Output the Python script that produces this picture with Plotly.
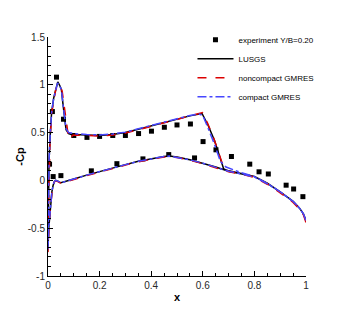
import plotly.graph_objects as go

# ---------------- data ----------------
exp_x = [0.006, 0.017, 0.033, 0.06, 0.10, 0.151, 0.20, 0.251, 0.30, 0.351, 0.401, 0.451, 0.50, 0.552,
         0.02, 0.05, 0.168, 0.267, 0.368, 0.468, 0.568,
         0.601, 0.651, 0.711, 0.782, 0.818, 0.854, 0.923, 0.952, 0.988]
exp_y = [0.17, 0.72, 1.08, 0.64, 0.47, 0.45, 0.46, 0.47, 0.47, 0.49, 0.515, 0.556, 0.58, 0.59,
         0.04, 0.05, 0.10, 0.175, 0.225, 0.27, 0.235,
         0.406, 0.32, 0.25, 0.17, 0.09, 0.067, -0.05, -0.09, -0.17]

# closed contour: trailing edge -> lower surface -> leading edge -> upper surface -> trailing edge
lus_x = [1.0, 0.99, 0.975, 0.95, 0.9, 0.85, 0.8, 0.75, 0.7, 0.65, 0.6, 0.55, 0.5, 0.47, 0.45, 0.4,
         0.35, 0.3, 0.25, 0.2, 0.15, 0.1, 0.07, 0.06, 0.05, 0.04, 0.03, 0.025, 0.02, 0.015, 0.008,
         0.003, 0.0, 0.002, 0.004, 0.008, 0.014, 0.022, 0.03, 0.038, 0.046, 0.052, 0.058, 0.064,
         0.07, 0.08, 0.09, 0.1, 0.15, 0.2, 0.25, 0.3, 0.35, 0.4, 0.45, 0.5, 0.55, 0.597, 0.62,
         0.645, 0.665, 0.681, 0.7, 0.75, 0.8, 0.85, 0.9, 0.95, 0.975, 0.99, 1.0]
lus_y = [-0.42, -0.35, -0.29, -0.22, -0.12, -0.03, 0.04, 0.07, 0.095, 0.14, 0.18, 0.215, 0.245,
         0.255, 0.25, 0.225, 0.2, 0.165, 0.13, 0.09, 0.055, 0.015, -0.01, -0.02, -0.025, -0.01,
         0.0, -0.01, -0.05, -0.12, -0.3, -0.5, -0.72, -0.2, 0.2, 0.45, 0.71, 0.86, 0.96, 1.03,
         0.99, 0.95, 0.80, 0.65, 0.53, 0.49, 0.48, 0.48, 0.475, 0.47, 0.48, 0.5, 0.535, 0.57,
         0.61, 0.645, 0.675, 0.70, 0.58, 0.42, 0.25, 0.12, 0.10, 0.07, 0.04, -0.03, -0.12, -0.22,
         -0.29, -0.35, -0.42]

nc_x = [1.0, 0.99, 0.975, 0.95, 0.9, 0.85, 0.8, 0.75, 0.7, 0.65, 0.6, 0.55, 0.5, 0.47, 0.45, 0.4,
        0.35, 0.3, 0.25, 0.2, 0.15, 0.1, 0.07, 0.06, 0.05, 0.04, 0.03, 0.025, 0.02, 0.015, 0.008,
        0.003, 0.0, 0.002, 0.004, 0.008, 0.014, 0.022, 0.03, 0.038, 0.046, 0.055, 0.062, 0.07,
        0.078, 0.086, 0.095, 0.1, 0.15, 0.2, 0.25, 0.3, 0.35, 0.4, 0.45, 0.5, 0.55, 0.599, 0.62,
        0.645, 0.665, 0.683, 0.7, 0.75, 0.8, 0.85, 0.9, 0.95, 0.975, 0.99, 1.0]
nc_y = [-0.44, -0.36, -0.30, -0.23, -0.13, -0.04, 0.03, 0.065, 0.09, 0.135, 0.175, 0.21, 0.24,
        0.245, 0.245, 0.22, 0.195, 0.16, 0.125, 0.085, 0.05, 0.01, -0.015, -0.025, -0.03, -0.015,
        -0.005, -0.015, -0.06, -0.14, -0.33, -0.55, -0.75, -0.25, 0.15, 0.42, 0.70, 0.85, 0.95,
        1.0, 0.99, 0.93, 0.78, 0.60, 0.48, 0.43, 0.47, 0.475, 0.47, 0.465, 0.475, 0.495, 0.53,
        0.565, 0.605, 0.64, 0.675, 0.71, 0.59, 0.42, 0.26, 0.12, 0.095, 0.065, 0.035, -0.035,
        -0.125, -0.225, -0.295, -0.36, -0.44]

cg_x = [1.0, 0.99, 0.975, 0.95, 0.9, 0.85, 0.8, 0.75, 0.72, 0.7, 0.65, 0.6, 0.55, 0.5, 0.47, 0.45,
        0.4, 0.35, 0.3, 0.25, 0.2, 0.15, 0.1, 0.07, 0.06, 0.05, 0.04, 0.03, 0.025, 0.02, 0.015,
        0.008, 0.003, 0.0, 0.002, 0.004, 0.008, 0.014, 0.022, 0.03, 0.037, 0.045, 0.052, 0.058,
        0.064, 0.07, 0.08, 0.09, 0.1, 0.15, 0.2, 0.25, 0.3, 0.35, 0.4, 0.45, 0.5, 0.55, 0.585,
        0.6, 0.62, 0.645, 0.668, 0.69, 0.72, 0.75, 0.8, 0.85, 0.9, 0.95, 0.975, 0.99, 1.0]
cg_y = [-0.42, -0.35, -0.29, -0.22, -0.12, -0.035, 0.035, 0.07, 0.085, 0.095, 0.14, 0.18, 0.215,
        0.245, 0.255, 0.25, 0.225, 0.2, 0.165, 0.13, 0.09, 0.055, 0.015, -0.01, -0.02, -0.025,
        -0.01, 0.0, -0.01, -0.05, -0.12, -0.3, -0.5, -0.72, -0.2, 0.2, 0.45, 0.71, 0.86, 0.96,
        1.02, 0.99, 0.95, 0.80, 0.65, 0.54, 0.50, 0.495, 0.49, 0.48, 0.475, 0.485, 0.505, 0.54,
        0.575, 0.615, 0.65, 0.68, 0.695, 0.68, 0.55, 0.38, 0.20, 0.14, 0.11, 0.08, 0.04, -0.03,
        -0.12, -0.22, -0.29, -0.35, -0.42]

x_tickvals = [0, 0.2, 0.4, 0.6, 0.8, 1]
x_ticktext = ["0", "0.2", "0.4", "0.6", "0.8", "1"]
y_tickvals = [-1, -0.5, 0, 0.5, 1, 1.5]
y_ticktext = ["-1", "-0.5", "0", "0.5", "1", "1.5"]

FONT = "Liberation Sans, Arial, sans-serif"

fig = go.Figure()
fig.add_trace(go.Scatter(x=exp_x, y=exp_y, mode="markers", name="experiment Y/B=0.20",
                         marker=dict(symbol="square", size=5, color="black")))
fig.add_trace(go.Scatter(x=lus_x, y=lus_y, mode="lines", name="LUSGS",
                         line=dict(color="black", width=1.5)))
fig.add_trace(go.Scatter(x=nc_x, y=nc_y, mode="lines", name="noncompact GMRES",
                         line=dict(color="rgb(220,0,0)", width=1.5, dash="dash")))
fig.add_trace(go.Scatter(x=cg_x, y=cg_y, mode="lines", name="compact GMRES",
                         line=dict(color="rgb(70,70,255)", width=1.5, dash="dashdot")))

axis_common = dict(showline=True, linecolor="black", linewidth=1, mirror=False,
                   showgrid=False, zeroline=False, ticks="inside", ticklen=5,
                   tickcolor="black", tickwidth=1,
                   tickfont=dict(family=FONT, size=10, color="rgb(40,40,40)"))

fig.update_xaxes(range=[0, 1], tickvals=x_tickvals, ticktext=x_ticktext,
                 minor=dict(ticks="inside", dtick=0.05, ticklen=3, tickcolor="black"),
                 title=dict(text="<b>x</b>", font=dict(family=FONT, size=11, color="black"),
                            standoff=3),
                 **axis_common)
fig.update_yaxes(range=[-1, 1.5], tickvals=y_tickvals, ticktext=y_ticktext,
                 minor=dict(ticks="inside", dtick=0.1, ticklen=3, tickcolor="black"),
                 title=dict(text="<b>-Cp</b>", font=dict(family=FONT, size=11, color="black"),
                            standoff=0),
                 **axis_common)

# the page body adds an 8px offset; margins compensate so the plot area lands where the reference has it
fig.update_layout(
    width=349, height=310,
    margin=dict(l=38, r=51, t=29, b=42),
    plot_bgcolor="white", paper_bgcolor="white",
    showlegend=True,
    legend=dict(x=0.56, y=1.049, xanchor="left", yanchor="top",
                bgcolor="rgba(0,0,0,0)", borderwidth=0,
                font=dict(family=FONT, size=8, color="black"),
                tracegroupgap=0, itemwidth=36),
)

fig.write_html("out.html")
